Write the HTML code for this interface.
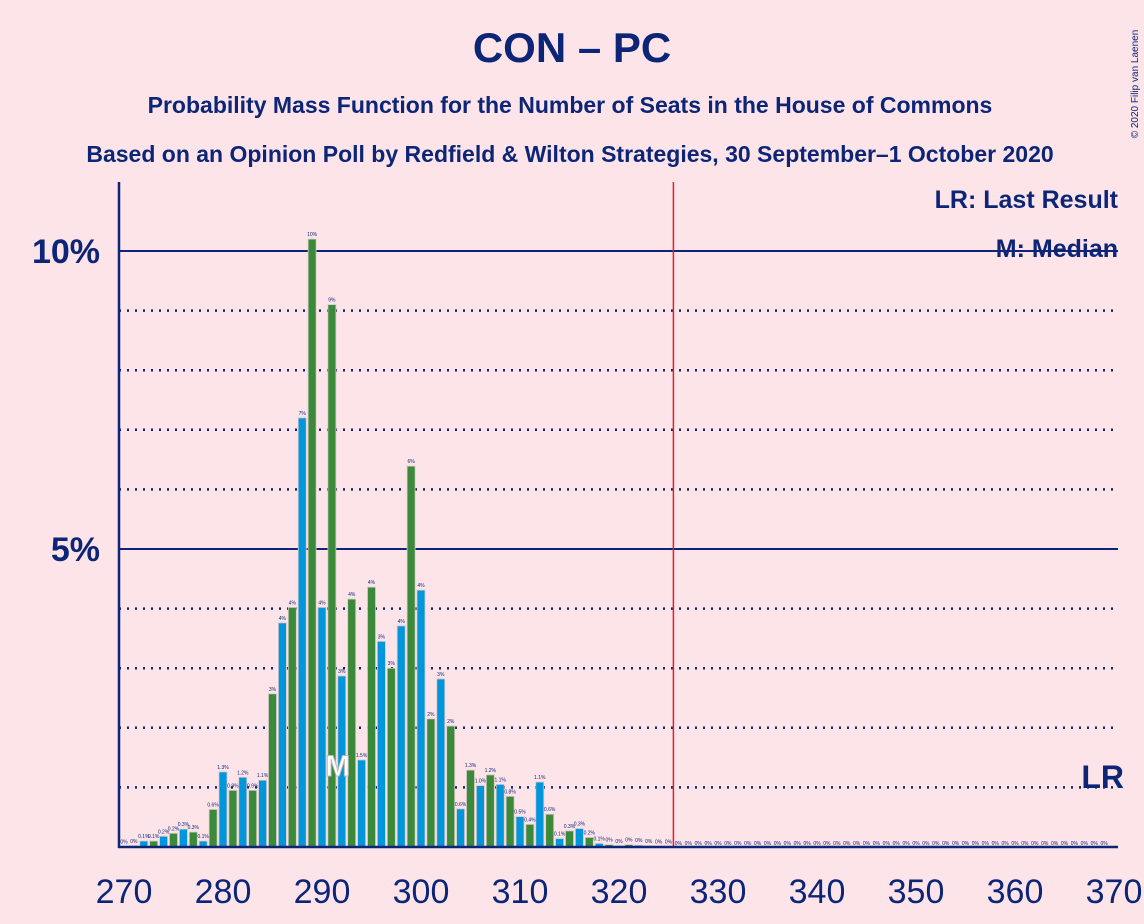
<!DOCTYPE html>
<html><head><meta charset="utf-8"><style>
body{margin:0;background:#fde4e8;}
svg{display:block;font-family:"Liberation Sans",sans-serif;}
</style></head><body>
<svg id="chart" width="1144" height="924" viewBox="0 0 1144 924">
<rect width="1144" height="924" fill="#fde4e8"/>
<text x="572" y="62" text-anchor="middle" font-size="42" font-weight="bold" fill="#0c2577">CON – PC</text>
<text x="570" y="113" text-anchor="middle" font-size="23" font-weight="bold" fill="#0c2577">Probability Mass Function for the Number of Seats in the House of Commons</text>
<text x="570" y="162" text-anchor="middle" font-size="23" font-weight="bold" fill="#0c2577">Based on an Opinion Poll by Redfield &amp; Wilton Strategies, 30 September–1 October 2020</text>
<text transform="translate(1138,84) rotate(-90)" text-anchor="middle" font-size="10" fill="#0c2577">© 2020 Filip van Laenen</text>
<g id="grid"></g>
<g id="bars"></g>
<g id="axes"></g>
<text x="1118" y="208" text-anchor="end" font-size="25" font-weight="bold" fill="#0c2577">LR: Last Result</text>
<text x="1118" y="257" text-anchor="end" font-size="25" font-weight="bold" fill="#0c2577">M: Median</text>
</svg>
<script>
const seats=[270,271,272,273,274,275,276,277,278,279,280,281,282,283,284,285,286,287,288,289,290,291,292,293,294,295,296,297,298,299,300,301,302,303,304,305,306,307,308,309,310,311,312,313,314,315,316,317,318,319,320,321,322,323,324,325];
const probs=[0.01,0.02,0.1,0.1,0.18,0.23,0.3,0.25,0.1,0.63,1.26,0.95,1.17,0.95,1.12,2.57,3.76,4.02,7.2,10.2,4.02,9.1,2.87,4.16,1.46,4.36,3.45,3.0,3.71,6.39,4.31,2.15,2.82,2.03,0.64,1.29,1.03,1.21,1.05,0.85,0.51,0.38,1.09,0.55,0.14,0.27,0.31,0.16,0.06,0.04,0.02,0.04,0.03,0.02,0.01,0.01];
const xTicks=[270,280,290,300,310,320,330,340,350,360,370];
const yTicks=[5,10];
const lastResult=326;
const median=292;
const NS="http://www.w3.org/2000/svg";
const X=s=>124+(s-270)*9.9;
const Y=p=>847-p*59.6;
const grid=document.getElementById('grid'),bars=document.getElementById('bars'),axes=document.getElementById('axes');
function mk(tag,at,parent){const e=document.createElementNS(NS,tag);for(const k in at)e.setAttribute(k,at[k]);parent.appendChild(e);return e;}
for(let p=1;p<=10;p++){
 const solid=p%5===0;
 const l=mk('line',{x1:119,x2:1118,y1:Y(p),y2:Y(p),stroke:'#0c2577','stroke-width':solid?2:2.5,'stroke-dasharray':solid?'':'2 6'},grid);
 
 
}
yTicks.forEach(t=>{
 const tx=mk('text',{x:100,y:Y(t)+12,'text-anchor':'end','font-size':34,'font-weight':'bold',fill:'#0c2577'},axes);
 tx.textContent=t+'%';
 
 
});
seats.forEach((s,i)=>{
 const p=probs[i];
 const h=Math.max(p*59.6,0);
 const r=mk('rect',{x:X(s)-4,y:Y(p),width:8,height:h,fill:s%2===0?'#0096db':'#3a8a3a',stroke:'#d9c9c9','stroke-width':0.8},bars);
 
 
 const lb=mk('text',{x:X(s),y:Y(p)-3,'text-anchor':'middle','font-size':5,fill:'#0c2577'},bars);
 lb.textContent=(p>=2?Math.round(p):p<0.05?0:p.toFixed(1))+'%';
 
 
}
);
for(let s=326;s<=369;s++){
 const lb=mk('text',{x:X(s),y:845,'text-anchor':'middle','font-size':5,fill:'#0c2577'},bars);
 lb.textContent='0%';
 
 
}
const mi=seats.indexOf(median);
const mt=mk('text',{x:X(median)-4,y:Y(probs[mi])+100,'text-anchor':'middle','font-size':30,'font-weight':'bold',fill:'#ffffff',stroke:'#bbbbbb','stroke-width':1},bars);
mt.textContent='M';


const lr=mk('line',{x1:X(lastResult)-5,x2:X(lastResult)-5,y1:182,y2:847,stroke:'#e0202a','stroke-width':1.5},axes);


const lrt=mk('text',{x:1124,y:788,'text-anchor':'end','font-size':32,'font-weight':'bold',fill:'#0c2577'},axes);
lrt.textContent='LR';


const ya=mk('line',{x1:119,x2:119,y1:182,y2:848,stroke:'#0c2577','stroke-width':2.5},axes);


const xa=mk('line',{x1:118,x2:1118,y1:847,y2:847,stroke:'#0c2577','stroke-width':2.5},axes);


xTicks.forEach(t=>{
 const tx=mk('text',{x:X(t),y:903,'text-anchor':'middle','font-size':34,fill:'#0c2577'},axes);
 tx.textContent=t;
 
 
});
</script>
</body></html>
